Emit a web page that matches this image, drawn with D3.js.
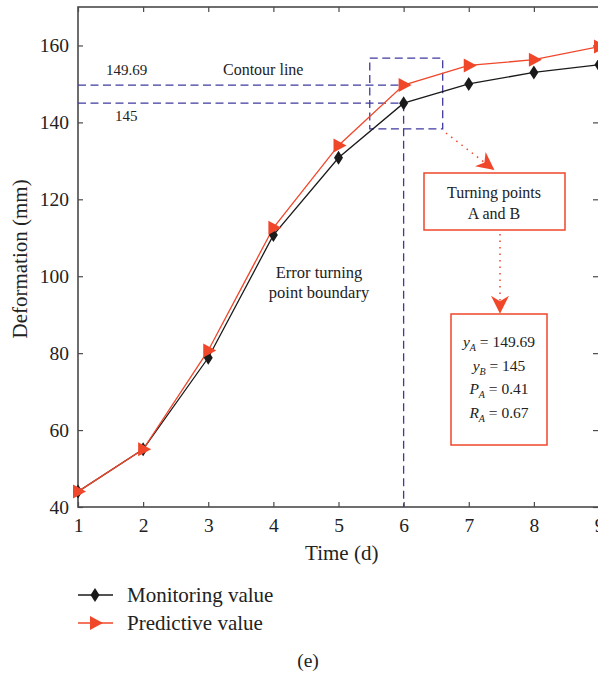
<!DOCTYPE html>
<html><head><meta charset="utf-8">
<script src="https://cdn.jsdelivr.net/npm/d3@7"></script>
<style>body{margin:0;background:#fff}svg{display:block}text{font-family:"Liberation Serif","DejaVu Serif",serif;fill:#222}</style>
</head><body><svg id="c" width="598" height="673"></svg>
<script>
const days = [1,2,3,4,5,6,7,8,9];
const monitoring = [44,55,78.8,110.7,130.8,145,150,153,155];
const predictive = [44,55,80.7,112.6,134,149.69,154.8,156.3,159.7];
const xTicks = [1,2,3,4,5,6,7,8,9];
const yTicks = [40,60,80,100,120,140,160];
const contourVals = [149.69,145];
const infoLines = [["y","A","149.69"],["y","B","145"],["P","A","0.41"],["R","A","0.67"]];

const svg = d3.select("#c");
const x = d3.scaleLinear().domain([1,9]).range([78,599]);
const y = d3.scaleLinear().domain([40,170]).range([507,7]);
const axisCol = "#4a4a4a", red = "#f0472a", blue = "#3f3a9e", black = "#1a1a1a";

// frame
svg.append("rect").attr("x",x(1)).attr("y",y(170)).attr("width",x(9)-x(1)).attr("height",y(40)-y(170))
  .attr("fill","none").attr("stroke",axisCol).attr("stroke-width",1.6);

const gx = svg.append("g").attr("transform",`translate(0,${y(40)})`)
  .call(d3.axisBottom(x).tickValues(xTicks).tickSize(-5).tickPadding(11).tickFormat(d3.format("d")));
const gxt = svg.append("g").attr("transform",`translate(0,${y(170)})`)
  .call(d3.axisTop(x).tickValues(xTicks).tickSize(-5).tickFormat(""));
const gy = svg.append("g").attr("transform",`translate(${x(1)},0)`)
  .call(d3.axisLeft(y).tickValues(yTicks).tickSize(-5).tickPadding(9));
const gyr = svg.append("g").attr("transform",`translate(${x(9)-1},0)`)
  .call(d3.axisRight(y).tickValues(yTicks).tickSize(-5).tickFormat(""));
[gx,gxt,gy,gyr].forEach(g=>{
  g.select(".domain").remove();
  g.selectAll(".tick line").attr("stroke",axisCol).attr("stroke-width",1.2);
  g.selectAll(".tick text").attr("font-size",19.5).attr("fill","#222").attr("font-family","Liberation Serif, serif");
});

// axis labels
svg.append("text").attr("x",x(5.05)).attr("y",560).attr("text-anchor","middle").attr("font-size",21).text("Time (d)");
svg.append("text").attr("transform",`translate(27,${y(104.5)}) rotate(-90)`).attr("text-anchor","middle").attr("font-size",21).text("Deformation (mm)");

// contour lines
const dash = "8,4.5";
contourVals.forEach(v=>{
  svg.append("line").attr("x1",x(1)).attr("x2",x(6)).attr("y1",y(v)).attr("y2",y(v))
    .attr("stroke",blue).attr("stroke-width",1.3).attr("stroke-dasharray",dash);
});
svg.append("line").attr("x1",x(6)).attr("x2",x(6)).attr("y1",y(145)).attr("y2",y(40))
  .attr("stroke",blue).attr("stroke-width",1.3).attr("stroke-dasharray",dash);
svg.append("rect").attr("x",x(5.48)).attr("y",y(156.7)).attr("width",x(6.6)-x(5.48)).attr("height",y(138.3)-y(156.7))
  .attr("fill","none").attr("stroke",blue).attr("stroke-width",1.3).attr("stroke-dasharray",dash);

svg.append("text").attr("x",106).attr("y",75).attr("font-size",15).text("149.69");
svg.append("text").attr("x",223).attr("y",75).attr("font-size",16).text("Contour line");
svg.append("text").attr("x",115).attr("y",121).attr("font-size",15).text("145");

// lines
const line = d3.line().x((d,i)=>x(days[i])).y(d=>y(d));
svg.append("path").datum(monitoring).attr("d",line).attr("fill","none").attr("stroke",black).attr("stroke-width",1.3);
svg.append("path").datum(predictive).attr("d",line).attr("fill","none").attr("stroke",red).attr("stroke-width",1.3);

const diamond = "M0,-7L4.5,0L0,7L-4.5,0Z";
const tri = "M-5,-7L8,0L-5,7Z";
svg.selectAll(".dm").data(monitoring).join("path").attr("class","dm")
  .attr("transform",(d,i)=>`translate(${x(days[i])},${y(d)})`).attr("d",diamond).attr("fill",black);
svg.selectAll(".tr").data(predictive).join("path").attr("class","tr")
  .attr("transform",(d,i)=>`translate(${x(days[i])},${y(d)})`).attr("d",tri).attr("fill",red);

// annotation text
svg.append("text").attr("x",319).attr("y",278).attr("text-anchor","middle").attr("font-size",16.5).text("Error turning");
svg.append("text").attr("x",319).attr("y",298).attr("text-anchor","middle").attr("font-size",16.5).text("point boundary");

// arrows
const defs = svg.append("defs");
defs.append("marker").attr("id","ah").attr("viewBox","0 0 10 10").attr("refX",9).attr("refY",5)
  .attr("markerWidth",18).attr("markerHeight",18).attr("markerUnits","userSpaceOnUse").attr("orient","auto")
  .append("path").attr("d","M0,0L10,5L0,10L3,5Z").attr("fill",red);
svg.append("line").attr("x1",446).attr("y1",133).attr("x2",493).attr("y2",169)
  .attr("stroke",red).attr("stroke-width",1.5).attr("stroke-dasharray","1.5,5").attr("marker-end","url(#ah)");
svg.append("line").attr("x1",500).attr("y1",234).attr("x2",500).attr("y2",312)
  .attr("stroke",red).attr("stroke-width",1.5).attr("stroke-dasharray","1.5,5").attr("marker-end","url(#ah)");

// boxes
svg.append("rect").attr("x",424).attr("y",173).attr("width",141).attr("height",57)
  .attr("fill","#fff").attr("stroke",red).attr("stroke-width",1.5);
svg.append("text").attr("x",494).attr("y",198).attr("text-anchor","middle").attr("font-size",16).text("Turning points");
svg.append("text").attr("x",494).attr("y",219).attr("text-anchor","middle").attr("font-size",16).text("A and B");

svg.append("rect").attr("x",451).attr("y",314).attr("width",96).attr("height",131)
  .attr("fill","#fff").attr("stroke",red).attr("stroke-width",1.5);
infoLines.forEach((l,i)=>{
  const t = svg.append("text").attr("x",499).attr("y",347+i*23.5).attr("text-anchor","middle").attr("font-size",15.5);
  t.append("tspan").attr("font-style","italic").text(l[0]);
  t.append("tspan").attr("font-style","italic").attr("font-size",10).attr("dy",4).text(l[1]);
  t.append("tspan").attr("dy",-4).text(" = "+l[2]);
});

// legend
const leg = [{n:"Monitoring value",c:black,m:diamond},{n:"Predictive value",c:red,m:tri}];
leg.forEach((d,i)=>{
  const yy = 595+i*28;
  svg.append("line").attr("x1",78).attr("x2",113).attr("y1",yy).attr("y2",yy).attr("stroke",d.c).attr("stroke-width",1.3);
  svg.append("path").attr("d",d.m).attr("transform",`translate(95,${yy})`).attr("fill",d.c);
  svg.append("text").attr("x",127).attr("y",yy+7).attr("font-size",21).text(d.n);
});
svg.append("text").attr("x",308).attr("y",667).attr("text-anchor","middle").attr("font-size",19.5).text("(e)");
</script></body></html>
